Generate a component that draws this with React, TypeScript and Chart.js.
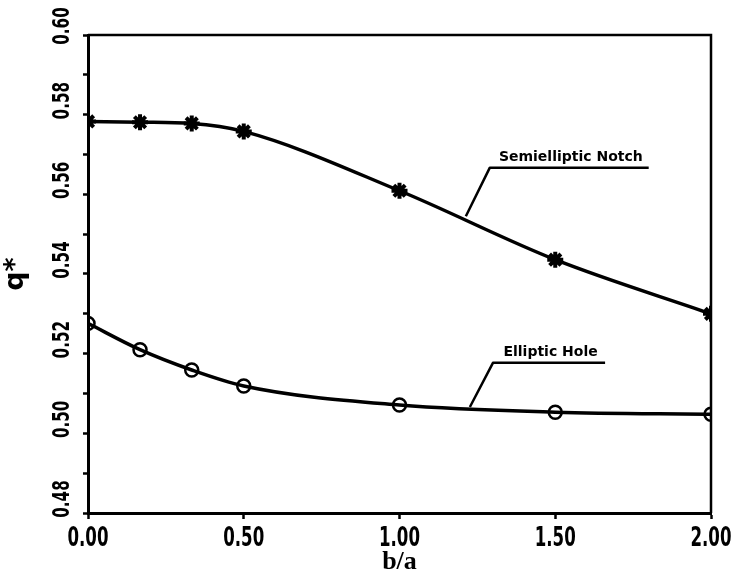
import React, { useEffect, useRef } from "react";
import { Chart, registerables } from "chart.js";

Chart.register(...registerables);

// ---- data ----
const bOverA = [0.0, 0.167, 0.333, 0.5, 1.0, 1.5, 2.0];
const semiellipticNotch = [0.5783, 0.5781, 0.5778, 0.5758, 0.5609, 0.5436, 0.53];
const ellipticHole = [0.5276, 0.521, 0.5159, 0.5119, 0.5071, 0.5053, 0.5048];
const xTickValues = [0, 0.5, 1.0, 1.5, 2.0];
const xTickLabels = ["0.00", "0.50", "1.00", "1.50", "2.00"];
const yMin = 0.48;
const yMax = 0.6;
const yStep = 0.01;
const yLabelValues = [0.48, 0.5, 0.52, 0.54, 0.56, 0.58, 0.6];
const yTickLabels = ["0.48", "0.50", "0.52", "0.54", "0.56", "0.58", "0.60"];

// annotation labels with leader lines (data coordinates)
const notes = [
  {
    text: "Semielliptic Notch",
    anchor: [1.213, 0.5545],
    elbow: [1.29, 0.5667],
    end: [1.8, 0.5667],
    textX: 1.55,
  },
  {
    text: "Elliptic Hole",
    anchor: [1.226, 0.5066],
    elbow: [1.3, 0.5177],
    end: [1.66, 0.5177],
    textX: 1.485,
  },
];

const LABEL_FONT = '"DejaVu Sans", sans-serif';

const framePlugin = {
  id: "frameAndNotes",
  afterDraw(chart: any) {
    const { ctx, chartArea, scales } = chart;
    const xs = scales.x;
    const ys = scales.y;
    ctx.save();
    ctx.strokeStyle = "#000";
    ctx.fillStyle = "#000";
    ctx.lineWidth = 2.5;
    ctx.beginPath();
    ctx.moveTo(chartArea.left, chartArea.top);
    ctx.lineTo(chartArea.right, chartArea.top);
    ctx.lineTo(chartArea.right, chartArea.bottom);
    ctx.stroke();

    // x tick labels (condensed bold)
    ctx.font = `bold 26px ${LABEL_FONT}`;
    ctx.textAlign = "center";
    ctx.textBaseline = "top";
    xTickValues.forEach((v, i) => {
      const px = xs.getPixelForValue(v);
      ctx.save();
      ctx.translate(px, chartArea.bottom + 13);
      ctx.scale(0.64, 1);
      ctx.fillText(xTickLabels[i], 0, 0);
      ctx.restore();
    });

    // y tick labels (rotated, condensed bold, sitting slightly above their ticks)
    ctx.font = `bold 23px ${LABEL_FONT}`;
    ctx.textAlign = "center";
    ctx.textBaseline = "middle";
    yLabelValues.forEach((v, i) => {
      const py = ys.getPixelForValue(v);
      ctx.save();
      ctx.translate(chartArea.left - 25, Math.max(py - 14, 26));
      ctx.rotate(-Math.PI / 2);
      ctx.scale(0.66, 1);
      ctx.fillText(yTickLabels[i], 0, 0);
      ctx.restore();
    });

    for (const n of notes) {
      const ax = xs.getPixelForValue(n.anchor[0]);
      const ay = ys.getPixelForValue(n.anchor[1]);
      const ex = xs.getPixelForValue(n.elbow[0]);
      const ey = ys.getPixelForValue(n.elbow[1]);
      const fx = xs.getPixelForValue(n.end[0]);
      const fy = ys.getPixelForValue(n.end[1]);
      ctx.lineWidth = 2.5;
      ctx.lineJoin = "round";
      ctx.beginPath();
      ctx.moveTo(ax, ay);
      ctx.lineTo(ex, ey);
      ctx.lineTo(fx, fy);
      ctx.stroke();
      ctx.font = `bold 14px ${LABEL_FONT}`;
      ctx.textAlign = "center";
      ctx.textBaseline = "bottom";
      ctx.fillText(n.text, xs.getPixelForValue(n.textX), ey - 3);
    }
    ctx.restore();
  },
};

export default function App() {
  const canvasRef = useRef<HTMLCanvasElement | null>(null);

  useEffect(() => {
    if (!canvasRef.current) return;
    const chart = new Chart(canvasRef.current, {
      type: "line",
      data: {
        datasets: [
          {
            label: "Semielliptic Notch",
            data: bOverA.map((x, i) => ({ x, y: semiellipticNotch[i] })),
            borderColor: "#000",
            borderWidth: 3.5,
            cubicInterpolationMode: "monotone",
            pointStyle: "star",
            pointRadius: 8,
            pointBorderWidth: 4,
            pointBorderColor: "#000",
            pointBackgroundColor: "#000",
            fill: false,
          },
          {
            label: "Elliptic Hole",
            data: bOverA.map((x, i) => ({ x, y: ellipticHole[i] })),
            borderColor: "#000",
            borderWidth: 3.5,
            cubicInterpolationMode: "monotone",
            pointStyle: "circle",
            pointRadius: 6.5,
            pointBorderWidth: 2.5,
            pointBorderColor: "#000",
            pointBackgroundColor: "rgba(0,0,0,0)",
            fill: false,
          },
        ],
      },
      options: {
        responsive: false,
        animation: false,
        layout: { padding: { top: 35, right: 26, left: 0, bottom: 0 } },
        plugins: {
          legend: { display: false },
          tooltip: { enabled: false },
        },
        scales: {
          x: {
            type: "linear",
            min: 0,
            max: 2,
            afterBuildTicks: (scale: any) => {
              scale.ticks = xTickValues.map((v) => ({ value: v }));
            },
            afterFit: (scale: any) => {
              scale.height = 65;
            },
            ticks: { display: false },
            grid: {
              display: true,
              drawOnChartArea: false,
              drawTicks: true,
              tickLength: 6,
              tickWidth: 2.5,
              tickColor: "#000",
            },
            border: { display: true, color: "#000", width: 3 },
            title: {
              display: true,
              text: "b/a",
              color: "#000",
              font: { family: '"Liberation Serif", "DejaVu Serif", serif', size: 26, weight: "bold" },
              padding: { top: 0, bottom: 0 },
            },
          },
          y: {
            type: "linear",
            min: yMin,
            max: yMax,
            afterFit: (scale: any) => {
              scale.width = 88;
            },
            ticks: { display: false, stepSize: yStep },
            grid: {
              display: true,
              drawOnChartArea: false,
              drawTicks: true,
              tickLength: 5,
              tickWidth: 2.5,
              tickColor: "#000",
            },
            border: { display: true, color: "#000", width: 3 },
            title: {
              display: true,
              text: "q*",
              color: "#000",
              font: { family: LABEL_FONT, size: 27, weight: "bold" },
              padding: { top: 0, bottom: 8 },
            },
          },
        },
      } as any,
      plugins: [framePlugin],
    });
    return () => chart.destroy();
  }, []);

  return (
    <div style={{ position: "fixed", left: 0, top: 0, width: 737, height: 578, background: "#fff" }}>
      <canvas ref={canvasRef} width={737} height={578} />
    </div>
  );
}
